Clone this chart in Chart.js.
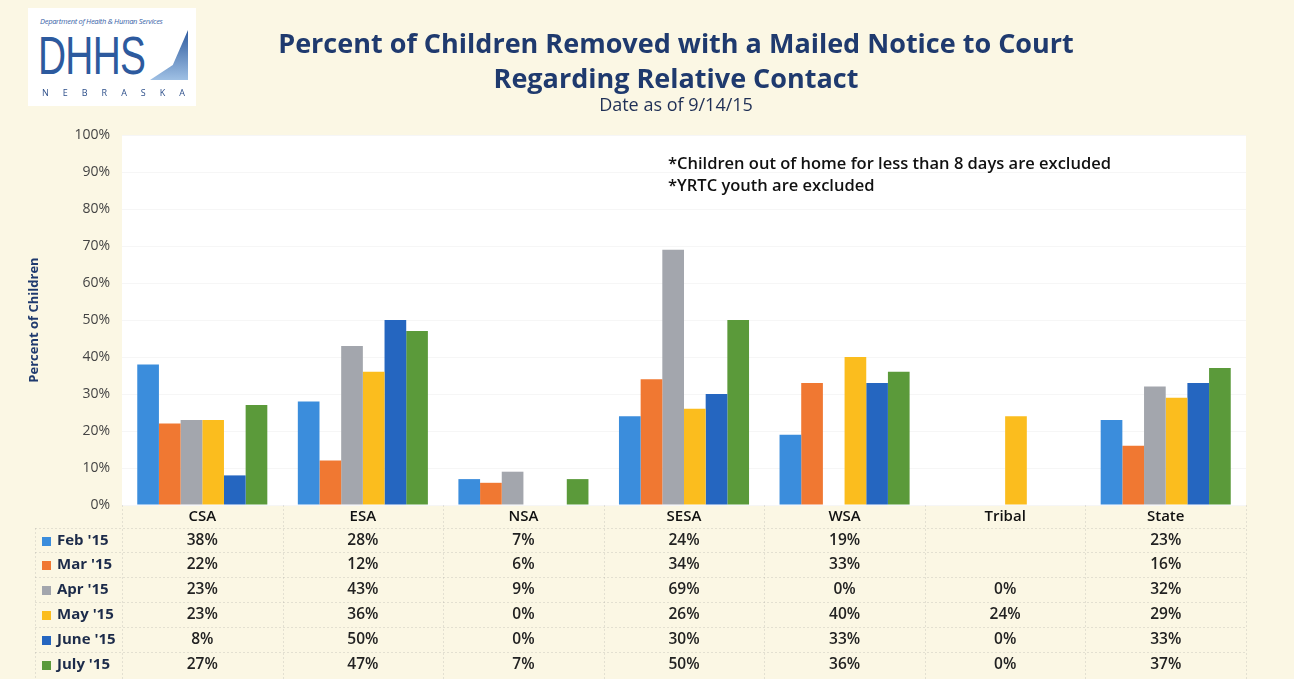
<!DOCTYPE html>
<html lang="en">
<head>
    <meta charset="UTF-8">
    <title>Percent of Children Removed with a Mailed Notice to Court</title>
    <script src="https://cdn.jsdelivr.net/npm/chart.js"></script>
    <style>
        body {
            margin: 0;
            background-color: #fbf7e4;
            font-family: "Open Sans", sans-serif;
        }
        #wrap {
            position: relative;
            width: 1294px;
            height: 679px;
        }
        .logo {
            position: absolute;
            left: 28px; top: 8px;
            width: 168px; height: 98px;
            background: #fff;
        }
        .logo .dept {
            position: absolute; left: 12px; top: 8px;
            font-size: 7.5px; font-style: italic; color: #3a64a8; letter-spacing: -0.3px;
        }
        .logo .big {
            position: absolute; left: 10px; top: 16px;
            font-family: "Liberation Sans", sans-serif;
            font-size: 54px; color: #2d5a9e; letter-spacing: -1px;
            transform: scaleX(0.72); transform-origin: left top;
        }
        .logo .swoosh {
            position: absolute; left: 122px; top: 22px; width: 38px; height: 50px;
            background: linear-gradient(180deg, #2d5a9e, #9fc0e4);
            clip-path: polygon(100% 0, 100% 100%, 0 100%, 60% 70%);
        }
        .logo .ne {
            position: absolute; left: 14px; top: 78px;
            font-size: 9px; color: #2d4f8a; letter-spacing: 14px;
        }
        .title {
            position: absolute; left: 0; width: 1352px; text-align: center;
            font-weight: bold; color: #1f3a6e;
        }
        .note {
            position: absolute; left: 668px; font-size: 16.5px; font-weight: 600; color: #111;
        }
        canvas { position: absolute; left: 0; top: 0; }
    </style>
</head>
<body>
<div id="wrap">
    <canvas id="myChart" width="1294" height="679"></canvas>
    <div class="logo">
        <div class="dept">Department of Health &amp; Human Services</div>
        <div class="big">DHHS</div>
        <div class="swoosh"></div>
        <div class="ne">NEBRASKA</div>
    </div>
    <div class="title" style="top:24px;font-size:27px;">Percent of Children Removed with a Mailed Notice to Court</div>
    <div class="title" style="top:59px;font-size:27px;">Regarding Relative Contact</div>
    <div class="title" style="top:92px;font-size:18px;font-weight:normal;color:#1f2f55;">Date as of 9/14/15</div>
    <div class="note" style="top:151px;">*Children out of home for less than 8 days are excluded</div>
    <div class="note" style="top:173px;">*YRTC youth are excluded</div>
</div>

<script>
    const categories = ['CSA', 'ESA', 'NSA', 'SESA', 'WSA', 'Tribal', 'State'];
    const months = ["Feb '15", "Mar '15", "Apr '15", "May '15", "June '15", "July '15"];
    const feb15 = [38, 28, 7, 24, 19, null, 23];
    const mar15 = [22, 12, 6, 34, 33, null, 16];
    const apr15 = [23, 43, 9, 69, 0, 0, 32];
    const may15 = [23, 36, 0, 26, 40, 24, 29];
    const june15 = [8, 50, 0, 30, 33, 0, 33];
    const july15 = [27, 47, 7, 50, 36, 0, 37];
    const yTicks = [0, 10, 20, 30, 40, 50, 60, 70, 80, 90, 100];

    const colors = ['#3b8ddc', '#f07832', '#a3a6ad', '#fbbd1e', '#2566c0', '#5b9a3a'];
    const series = [feb15, mar15, apr15, may15, june15, july15];

    // white plot background
    const plotBg = {
        id: 'plotBg',
        beforeDraw(chart) {
            const a = chart.chartArea;
            const ctx = chart.ctx;
            ctx.save();
            ctx.fillStyle = '#ffffff';
            ctx.fillRect(a.left, a.top, a.right - a.left, a.bottom - a.top + 1);
            ctx.restore();
        }
    };

    // data table under the plot
    const dataTable = {
        id: 'dataTable',
        afterDraw(chart) {
            const ctx = chart.ctx;
            const x = chart.scales.x;
            const a = chart.chartArea;
            const half = (x.getPixelForValue(1) - x.getPixelForValue(0)) / 2;
            const headerY = 517;
            const rowY = [541, 565, 590, 615, 640, 665];
            ctx.save();

            // faint table lines
            ctx.strokeStyle = 'rgba(120,120,120,0.18)';
            ctx.setLineDash([2, 2]);
            ctx.lineWidth = 1;
            ctx.beginPath();
            ctx.moveTo(a.left + 0.5, a.bottom);
            ctx.lineTo(a.left + 0.5, 679);
            ctx.moveTo(35.5, 528);
            ctx.lineTo(35.5, 679);
            categories.forEach((c, i) => {
                const xr = Math.round(x.getPixelForValue(i) + half) + 0.5;
                ctx.moveTo(xr, a.bottom);
                ctx.lineTo(xr, 679);
            });
            rowY.forEach(y => {
                ctx.moveTo(35, y - 12.5);
                ctx.lineTo(a.right, y - 12.5);
            });
            ctx.stroke();
            ctx.setLineDash([]);

            ctx.textAlign = 'center';
            ctx.textBaseline = 'middle';
            ctx.fillStyle = '#111';
            ctx.font = '600 15px "Open Sans"';
            categories.forEach((c, i) => {
                ctx.fillText(c, x.getPixelForValue(i), headerY);
            });

            chart.data.datasets.forEach((ds, r) => {
                ctx.fillStyle = ds.backgroundColor;
                ctx.fillRect(42, rowY[r] - 4, 9, 9);
                ctx.fillStyle = '#1c2b4a';
                ctx.textAlign = 'left';
                ctx.font = 'bold 15px "Open Sans"';
                ctx.fillText(ds.label, 57, rowY[r]);
                ctx.textAlign = 'center';
                ctx.fillStyle = '#222';
                ctx.font = '600 15.5px "Open Sans"';
                ds.data.forEach((v, i) => {
                    if (v === null) return;
                    ctx.fillText(v + '%', x.getPixelForValue(i), rowY[r]);
                });
            });
            ctx.restore();
        }
    };

    const ctx = document.getElementById('myChart').getContext('2d');
    new Chart(ctx, {
        type: 'bar',
        data: {
            labels: categories,
            datasets: months.map((m, i) => ({
                label: m,
                data: series[i],
                backgroundColor: colors[i],
                borderWidth: 0,
                categoryPercentage: 0.81,
                barPercentage: 1.0
            }))
        },
        options: {
            responsive: false,
            animation: false,
            layout: { padding: { top: 135, right: 48, left: 0, bottom: 0 } },
            plugins: {
                legend: { display: false },
                tooltip: { enabled: false }
            },
            scales: {
                x: {
                    grid: { display: false },
                    border: { display: false },
                    ticks: { display: false },
                    afterFit(scale) { scale.height = 174; }
                },
                y: {
                    min: 0,
                    max: 100,
                    afterBuildTicks(scale) { scale.ticks = yTicks.map(v => ({ value: v })); },
                    afterFit(scale) { scale.width = 122; },
                    grid: { color: 'rgba(0,0,0,0.035)', drawTicks: false },
                    border: { display: false },
                    ticks: {
                        padding: 12,
                        color: '#444',
                        font: { family: 'Open Sans', size: 14 },
                        callback: v => v + '%'
                    },
                    title: {
                        display: true,
                        text: 'Percent of Children',
                        color: '#1f3a6e',
                        font: { family: 'Open Sans', size: 13, weight: 'bold' },
                        padding: { top: 26, bottom: 0 }
                    }
                }
            }
        },
        plugins: [plotBg, dataTable]
    });
</script>
</body>
</html>
